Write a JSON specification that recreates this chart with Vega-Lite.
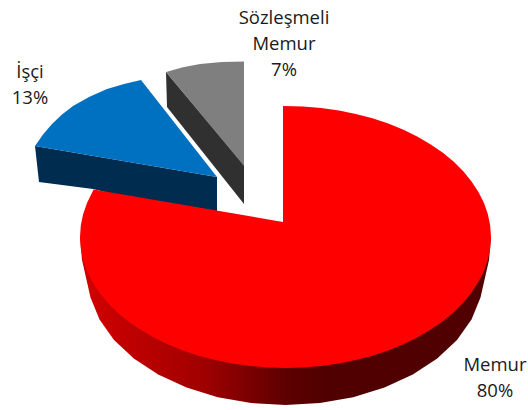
{
"$schema":"https://vega.github.io/schema/vega-lite/v6.json",
"width":528,"height":410,"padding":0,"autosize":"none",
"background":"white",
"config":{"view":{"stroke":null}},
"datasets":{
"outline":[
{"part":"graySide","i":1,"x":166,"y":72},{"part":"graySide","i":2,"x":167,"y":107},{"part":"graySide","i":3,"x":244,"y":204},{"part":"graySide","i":4,"x":244,"y":165},
{"part":"grayTop","i":1,"x":166,"y":72},{"part":"grayTop","i":2,"x":183,"y":67.3},{"part":"grayTop","i":3,"x":200,"y":64},{"part":"grayTop","i":4,"x":222,"y":62},{"part":"grayTop","i":5,"x":244,"y":61.5},{"part":"grayTop","i":6,"x":244,"y":166},
{"part":"blueSide","i":1,"x":35,"y":146},{"part":"blueSide","i":2,"x":39,"y":182},{"part":"blueSide","i":3,"x":93,"y":189},{"part":"blueSide","i":4,"x":217,"y":220},{"part":"blueSide","i":5,"x":217,"y":177},
{"part":"blueTop","i":1,"x":35,"y":146},{"part":"blueTop","i":2,"x":43,"y":134.5},{"part":"blueTop","i":3,"x":52,"y":124},{"part":"blueTop","i":4,"x":62,"y":114.5},{"part":"blueTop","i":5,"x":73,"y":106},{"part":"blueTop","i":6,"x":89,"y":97},{"part":"blueTop","i":7,"x":107,"y":89},{"part":"blueTop","i":8,"x":124,"y":84},{"part":"blueTop","i":9,"x":141,"y":80},{"part":"blueTop","i":10,"x":217,"y":177},
{"part":"redSide","i":1,"x":491,"y":237},{"part":"redSide","i":2,"x":489,"y":260},{"part":"redSide","i":3,"x":480.5,"y":297.6},{"part":"redSide","i":4,"x":471.5,"y":319.5},{"part":"redSide","i":5,"x":457,"y":340},{"part":"redSide","i":6,"x":437.2,"y":358.6},{"part":"redSide","i":7,"x":412.8,"y":374.6},{"part":"redSide","i":8,"x":384.5,"y":387.6},{"part":"redSide","i":9,"x":353.2,"y":397.2},{"part":"redSide","i":10,"x":319.9,"y":403},{"part":"redSide","i":11,"x":285.5,"y":405},{"part":"redSide","i":12,"x":251.1,"y":403},{"part":"redSide","i":13,"x":217.8,"y":397.2},{"part":"redSide","i":14,"x":186.5,"y":387.6},{"part":"redSide","i":15,"x":158.2,"y":374.6},{"part":"redSide","i":16,"x":133.8,"y":358.6},{"part":"redSide","i":17,"x":114,"y":340},{"part":"redSide","i":18,"x":99.5,"y":319.5},{"part":"redSide","i":19,"x":90.5,"y":297.6},{"part":"redSide","i":20,"x":82,"y":260},{"part":"redSide","i":21,"x":80,"y":237},
{"part":"redTop","i":1,"x":283,"y":222},{"part":"redTop","i":2,"x":283,"y":106},{"part":"redTop","i":3,"x":303,"y":106.6},{"part":"redTop","i":4,"x":321.2,"y":108},{"part":"redTop","i":5,"x":339,"y":110.5},{"part":"redTop","i":6,"x":355.8,"y":113.9},{"part":"redTop","i":7,"x":372.5,"y":118.3},{"part":"redTop","i":8,"x":388.3,"y":123.6},{"part":"redTop","i":9,"x":403.5,"y":129.7},{"part":"redTop","i":10,"x":417.6,"y":136.7},{"part":"redTop","i":11,"x":430.8,"y":144.4},{"part":"redTop","i":12,"x":442.9,"y":152.8},{"part":"redTop","i":13,"x":453.8,"y":161.8},{"part":"redTop","i":14,"x":463.5,"y":171.5},{"part":"redTop","i":15,"x":471.7,"y":181.7},{"part":"redTop","i":16,"x":478.6,"y":192.2},{"part":"redTop","i":17,"x":484,"y":203},{"part":"redTop","i":18,"x":487.9,"y":214.2},{"part":"redTop","i":19,"x":490.2,"y":225.5},{"part":"redTop","i":20,"x":491,"y":237},{"part":"redTop","i":21,"x":490.2,"y":248.5},{"part":"redTop","i":22,"x":487.9,"y":259.8},{"part":"redTop","i":23,"x":484,"y":271},{"part":"redTop","i":24,"x":478.6,"y":281.8},{"part":"redTop","i":25,"x":471.7,"y":292.3},{"part":"redTop","i":26,"x":463.5,"y":302.5},{"part":"redTop","i":27,"x":453.8,"y":312.2},{"part":"redTop","i":28,"x":442.9,"y":321.2},{"part":"redTop","i":29,"x":430.8,"y":329.6},{"part":"redTop","i":30,"x":417.6,"y":337.3},{"part":"redTop","i":31,"x":403.5,"y":344.3},{"part":"redTop","i":32,"x":388.3,"y":350.4},{"part":"redTop","i":33,"x":372.5,"y":355.7},{"part":"redTop","i":34,"x":355.8,"y":360.1},{"part":"redTop","i":35,"x":339,"y":363.5},{"part":"redTop","i":36,"x":321.2,"y":366},{"part":"redTop","i":37,"x":303,"y":367.4},{"part":"redTop","i":38,"x":285.5,"y":368},{"part":"redTop","i":39,"x":267.5,"y":367.4},{"part":"redTop","i":40,"x":249.8,"y":366},{"part":"redTop","i":41,"x":232,"y":363.5},{"part":"redTop","i":42,"x":215.2,"y":360.1},{"part":"redTop","i":43,"x":198.5,"y":355.7},{"part":"redTop","i":44,"x":182.7,"y":350.4},{"part":"redTop","i":45,"x":167.5,"y":344.3},{"part":"redTop","i":46,"x":153.4,"y":337.3},{"part":"redTop","i":47,"x":140.2,"y":329.6},{"part":"redTop","i":48,"x":128.1,"y":321.2},{"part":"redTop","i":49,"x":117.2,"y":312.2},{"part":"redTop","i":50,"x":107.5,"y":302.5},{"part":"redTop","i":51,"x":99.3,"y":292.3},{"part":"redTop","i":52,"x":92.4,"y":281.8},{"part":"redTop","i":53,"x":87,"y":271},{"part":"redTop","i":54,"x":83.1,"y":259.8},{"part":"redTop","i":55,"x":80.8,"y":248.5},{"part":"redTop","i":56,"x":80,"y":237},{"part":"redTop","i":57,"x":80.8,"y":225.5},{"part":"redTop","i":58,"x":83.1,"y":214.2},{"part":"redTop","i":59,"x":87,"y":203},{"part":"redTop","i":60,"x":93.6,"y":189.5}
],
"labels":[
{"label":"Sözleşmeli\nMemur\n7%","x":284,"y":24},
{"label":"İşçi\n13%","x":30,"y":78},
{"label":"Memur\n80%","x":495,"y":371}
]
},
"encoding":{
"x":{"field":"x","type":"quantitative","axis":null,"scale":{"domain":[0,528],"nice":false,"zero":false}},
"y":{"field":"y","type":"quantitative","axis":null,"scale":{"domain":[410,0],"nice":false,"zero":false}},
"order":{"field":"i","type":"quantitative"}
},
"layer":[
{"data":{"name":"outline"},"transform":[{"filter":"datum.part==='graySide'"}],"mark":{"type":"line","filled":true,"fill":"#303030","strokeWidth":0}},
{"data":{"name":"outline"},"transform":[{"filter":"datum.part==='grayTop'"}],"mark":{"type":"line","filled":true,"fill":"#7f7f7f","strokeWidth":0}},
{"data":{"name":"outline"},"transform":[{"filter":"datum.part==='blueSide'"}],"mark":{"type":"line","filled":true,"fill":"#002c50","strokeWidth":0}},
{"data":{"name":"outline"},"transform":[{"filter":"datum.part==='blueTop'"}],"mark":{"type":"line","filled":true,"fill":"#0070c0","strokeWidth":0}},
{"data":{"name":"outline"},"transform":[{"filter":"datum.part==='redSide'"}],"mark":{"type":"line","filled":true,"strokeWidth":0,"fill":{"gradient":"linear","x1":0,"y1":0,"x2":1,"y2":0,"stops":[{"offset":0,"color":"#d40000"},{"offset":0.3,"color":"#a00000"},{"offset":0.5,"color":"#5e0000"},{"offset":0.6,"color":"#500000"},{"offset":1,"color":"#500000"}]}}},
{"data":{"name":"outline"},"transform":[{"filter":"datum.part==='redTop'"}],"mark":{"type":"line","filled":true,"fill":"#ff0000","strokeWidth":0}},
{"data":{"name":"labels"},"mark":{"type":"text","font":"Open Sans","fontSize":18.5,"align":"center","baseline":"alphabetic","lineBreak":"\n","lineHeight":26,"color":"#1a1a1a"},"encoding":{"text":{"field":"label","type":"nominal"},"order":{"value":null}}}
]
}
